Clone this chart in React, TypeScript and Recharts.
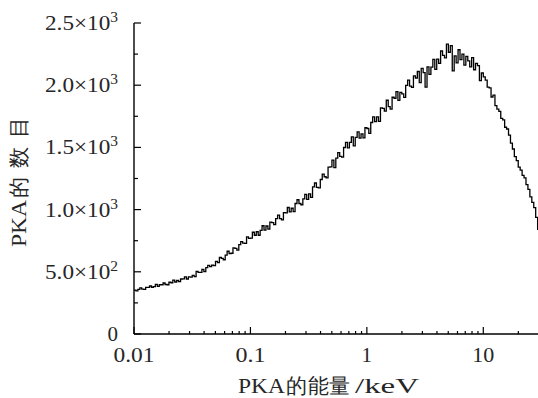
import React from "react";
import { LineChart, Line, XAxis, YAxis, Label } from "recharts";

// PKA counts per logarithmic energy bin (60 bins per decade, starting at 0.01 keV)
const counts = [
  352, 347, 358, 371, 360, 359, 374, 374, 386, 376, 381, 399, 383, 396, 396, 410, 398, 396, 416,
  412, 433, 418, 430, 421, 442, 443, 459, 442, 459, 458,
  472, 462, 503, 496, 496, 520, 501, 533, 552, 541, 554, 550, 584,
  574, 615, 608, 597, 634, 665, 647, 649, 693, 689, 674, 719, 742, 730, 729, 781, 769, 770,
  818, 794, 822, 794, 833, 870, 835, 868, 843, 900, 895,
  879, 927, 955, 928, 917, 976, 974,
  1017, 982, 1011, 984, 1049, 1079, 1049, 1039, 1087, 1122, 1082,
  1127, 1099, 1183, 1214, 1178, 1175, 1242, 1285, 1264, 1255, 1342, 1344, 1398,
  1337, 1414, 1458, 1428, 1422, 1499, 1541, 1496, 1540,
  1585, 1513, 1580, 1624, 1575, 1609, 1577, 1658, 1652,
  1612, 1700, 1745, 1708, 1746, 1710, 1818, 1814, 1792,
  1879, 1827, 1808, 1903, 1895, 1948, 1878, 1942, 1930,
  1902, 1998, 2040, 1992, 1983, 2075,
  2058, 2110, 2021, 2135, 2101, 1985,
  2148, 2087, 2145, 2208, 2127, 2210,
  2175, 2275, 2240, 2220, 2330,
  2265, 2318, 2115,
  2236, 2180, 2285, 2205, 2250, 2162, 2231,
  2196, 2148, 2222, 2124, 2175,
  2158, 2036, 2098, 2067,
  2040, 1985, 1978, 1905, 1921, 1836, 1808,
  1790, 1733, 1722, 1662, 1648,
  1598, 1534, 1487, 1426, 1393, 1341,
  1318, 1275, 1255, 1200, 1163, 1102,
  1058, 1016, 938, 842, 776,
];
const binsPerDecade = 60;
const minEnergy = 0.01;
const maxEnergy = 29.5;

const xTicks = [
  0.01, 0.02, 0.03, 0.04, 0.05, 0.06, 0.07, 0.08, 0.09,
  0.1, 0.2, 0.3, 0.4, 0.5, 0.6, 0.7, 0.8, 0.9,
  1, 2, 3, 4, 5, 6, 7, 8, 9,
  10, 20,
];
const xMajor = [0.01, 0.1, 1, 10];
const xLabels = ["0.01", "0.1", "1", "10"];
const xLabelWidths = [41, 30, 0, 22];

const yTicks = [0, 250, 500, 750, 1000, 1250, 1500, 1750, 2000, 2250, 2500];
const yMantissa: Record<number, string> = {
  500: "5.0×10",
  1000: "1.0×10",
  1500: "1.5×10",
  2000: "2.0×10",
  2500: "2.5×10",
};
const yExponent: Record<number, string> = {
  500: "2",
  1000: "3",
  1500: "3",
  2000: "3",
  2500: "3",
};

const data = counts.map((c, i) => ({
  energy: minEnergy * Math.pow(10, i / binsPerDecade),
  count: c,
}));

const FONT = "'Liberation Serif', 'DejaVu Serif', serif";
const TOP = 23;
const BOTTOM = 334;
const LEFT = 134;
const TEXT = "#262626";

const BottomTick = (props: any) => {
  const { x, payload } = props;
  const idx = xMajor.findIndex((v) => Math.abs(v - payload.value) < 1e-9);
  const major = idx >= 0;
  const w = major ? xLabelWidths[idx] : 0;
  return (
    <g>
      <line x1={x} x2={x} y1={BOTTOM} y2={BOTTOM - (major ? 7 : 3)} stroke="#000" strokeWidth={1.2} />
      {major && (
        <text
          x={x}
          y={362}
          textAnchor="middle"
          fill={TEXT}
          textLength={w || undefined}
          lengthAdjust={w ? "spacingAndGlyphs" : undefined}
          style={{ fontFamily: FONT, fontSize: 21 }}
        >
          {xLabels[idx]}
        </text>
      )}
    </g>
  );
};

const TopTick = (props: any) => {
  const { x, payload } = props;
  const major = xMajor.some((v) => Math.abs(v - payload.value) < 1e-9);
  return <line x1={x} x2={x} y1={TOP} y2={TOP + (major ? 5 : 3)} stroke="#444" strokeWidth={1} />;
};

const LeftTick = (props: any) => {
  const { y, payload } = props;
  const v = payload.value;
  const major = v % 500 === 0;
  return (
    <g>
      <line x1={LEFT} x2={LEFT + (major ? 7 : 4)} y1={y} y2={y} stroke="#000" strokeWidth={1.2} />
      {major &&
        (v === 0 ? (
          <text x={118} y={y + 7} textAnchor="end" fill={TEXT} style={{ fontFamily: FONT, fontSize: 21 }}>
            0
          </text>
        ) : (
          <text
            x={45}
            y={y + 7}
            textLength={73}
            lengthAdjust="spacingAndGlyphs"
            fill={TEXT}
            style={{ fontFamily: FONT, fontSize: 21 }}
          >
            {yMantissa[v]}
            <tspan dy={-8} style={{ fontSize: 14 }}>
              {yExponent[v]}
            </tspan>
          </text>
        ))}
    </g>
  );
};

const XTitle = () => (
  <g fill={TEXT} style={{ fontFamily: FONT, fontSize: 21 }}>
    <text x={238} y={393} textLength={47} lengthAdjust="spacingAndGlyphs">
      PKA
    </text>
    <text x={286} y={393} textLength={64} lengthAdjust="spacing">
      的能量
    </text>
    <text x={355} y={393} textLength={64} lengthAdjust="spacingAndGlyphs">
      /keV
    </text>
  </g>
);

const YTitle = () => (
  <g fill={TEXT} transform="translate(26 247) rotate(-90)" style={{ fontFamily: FONT, fontSize: 21 }}>
    <text x={0} y={0} textLength={47} lengthAdjust="spacingAndGlyphs">
      PKA
    </text>
    <text x={49} y={0} textLength={81} lengthAdjust="spacing">
      的数目
    </text>
  </g>
);

export default function App() {
  return (
    <div style={{ position: "absolute", left: 0, top: 0, background: "#fff" }}>
      <LineChart width={538} height={398} data={data} margin={{ top: TOP, right: 0, bottom: 0, left: 0 }}>
        <XAxis
          dataKey="energy"
          type="number"
          scale="log"
          domain={[minEnergy, maxEnergy]}
          allowDataOverflow
          ticks={xTicks}
          interval={0}
          tick={<BottomTick />}
          tickLine={false}
          axisLine={{ stroke: "#000", strokeWidth: 1.4 }}
          height={398 - BOTTOM}
        >
          <Label content={() => <XTitle />} />
        </XAxis>
        <XAxis
          xAxisId="top"
          orientation="top"
          dataKey="energy"
          type="number"
          scale="log"
          domain={[minEnergy, maxEnergy]}
          allowDataOverflow
          ticks={xTicks}
          interval={0}
          tick={<TopTick />}
          tickLine={false}
          axisLine={{ stroke: "#000", strokeWidth: 1.4 }}
          height={0}
        />
        <YAxis
          type="number"
          domain={[0, 2500]}
          ticks={yTicks}
          interval={0}
          width={LEFT}
          tick={<LeftTick />}
          tickLine={false}
          axisLine={{ stroke: "#000", strokeWidth: 1.4 }}
        >
          <Label content={() => <YTitle />} />
        </YAxis>
        <Line
          dataKey="count"
          type="stepAfter"
          stroke="#000"
          strokeWidth={1.3}
          dot={false}
          isAnimationActive={false}
        />
      </LineChart>
    </div>
  );
}
